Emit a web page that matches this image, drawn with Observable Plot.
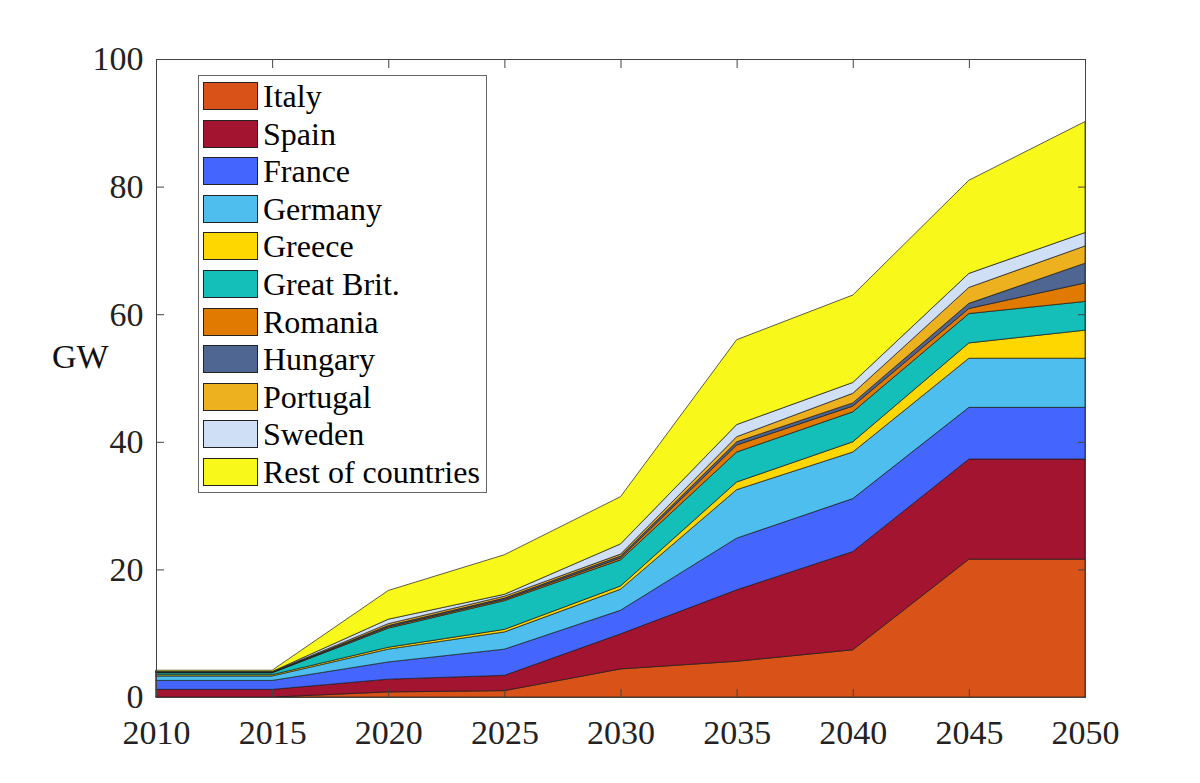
<!DOCTYPE html>
<html>
<head>
<meta charset="utf-8">
<script src="https://cdn.jsdelivr.net/npm/d3@7"></script>
<script src="https://cdn.jsdelivr.net/npm/@observablehq/plot@0.6"></script>
<style>
  html, body { margin: 0; padding: 0; background: #fff; }
  #wrap { position: relative; width: 1200px; height: 783px; font-family: "Liberation Serif", "DejaVu Serif", serif; }
  #wrap svg { position: absolute; left: 0; top: 0; }
  #legend { position: absolute; left: 198px; top: 75px; width: 289px; height: 418px; border: 1px solid #666; background: #fff; box-sizing: border-box; }
  .row { position: absolute; left: 4px; height: 28px; display: flex; align-items: center; }
  .sw { width: 53px; height: 26px; border: 1px solid #222; margin-right: 5px; }
  .lab { font-size: 32px; color: #000; line-height: 28px; white-space: nowrap; }
  #gw { position: absolute; left: 52px; top: 338px; font-size: 34px; color: #111; }
</style>
</head>
<body>
<div id="wrap"></div>
<script>
const years = [2010, 2015, 2020, 2025, 2030, 2035, 2040, 2045, 2050];
const countries = ["Italy", "Spain", "France", "Germany", "Greece", "Great Brit.", "Romania", "Hungary", "Portugal", "Sweden", "Rest of countries"];
const colors = ["#D95319", "#A2142F", "#4466FF", "#4DBEEE", "#FFD700", "#14BFB9", "#E17A00", "#4F6592", "#EDB120", "#CFDFF5", "#F8F81A"];

const italy    = [0,    0,    0.8, 1.0, 4.4, 5.6,  7.4,  21.6, 21.6];
const spain    = [1.2,  1.2,  2.0, 2.4, 5.5, 11.2, 15.4, 15.7, 15.7];
const france   = [1.4,  1.4,  2.7, 4.1, 3.7, 8.1,  8.3,  8.1,  8.1];
const germany  = [0.7,  0.7,  2.0, 2.7, 3.3, 7.6,  7.3,  7.7,  7.7];
const greece   = [0.2,  0.2,  0.3, 0.4, 0.5, 1.2,  1.6,  2.4,  4.4];
const greatBrit= [0.3,  0.3,  3.0, 4.5, 4.1, 4.7,  4.7,  4.6,  4.5];
const romania  = [0.05, 0.05, 0.2, 0.2, 0.3, 1.1,  0.9,  0.8,  2.9];
const hungary  = [0.05, 0.05, 0.2, 0.2, 0.3, 0.5,  0.5,  0.8,  3.1];
const portugal = [0.05, 0.05, 0.3, 0.3, 0.3, 0.8,  1.5,  2.5,  2.7];
const sweden   = [0.05, 0.05, 0.7, 0.3, 1.6, 1.9,  1.7,  2.2,  2.1];
const rest     = [0.2,  0.2,  4.5, 6.2, 7.4, 13.3, 13.7, 14.6, 17.4];

const yTicks = [0, 20, 40, 60, 80, 100];

const series = [italy, spain, france, germany, greece, greatBrit, romania, hungary, portugal, sweden, rest];
const data = [];
countries.forEach((c, i) => years.forEach((y, j) => data.push({country: c, year: y, value: series[i][j]})));

const noLabel = () => "";
const chart = Plot.plot({
  width: 1200,
  height: 783,
  marginLeft: 156,
  marginRight: 115,
  marginTop: 59,
  marginBottom: 86,
  style: {fontFamily: "'Liberation Serif', 'DejaVu Serif', serif", fontSize: "34px", color: "#222", background: "transparent"},
  x: {domain: [2010, 2050]},
  y: {domain: [0, 100]},
  color: {domain: countries, range: colors},
  marks: [
    Plot.areaY(data, {x: "year", y: "value", z: "country", fill: "country", stroke: "#1a1a1a", strokeWidth: 0.7, order: countries}),
    Plot.frame({stroke: "#444", strokeWidth: 1}),
    Plot.axisX({anchor: "bottom", ticks: years, tickFormat: "d", tickSize: -8, tickPadding: 30, label: null, stroke: "#444", fill: "#222"}),
    Plot.axisX({anchor: "top", ticks: years, tickFormat: noLabel, tickSize: -8, label: null, stroke: "#444"}),
    Plot.axisY({anchor: "left", ticks: yTicks, tickSize: -8, tickPadding: 21, label: null, stroke: "#444", fill: "#222"}),
    Plot.axisY({anchor: "right", ticks: yTicks, tickFormat: noLabel, tickSize: -8, label: null, stroke: "#444"})
  ]
});

const wrap = document.getElementById("wrap");
wrap.appendChild(chart);

const gw = document.createElement("div");
gw.id = "gw";
gw.textContent = "GW";
wrap.appendChild(gw);

const legend = document.createElement("div");
legend.id = "legend";
countries.forEach((c, i) => {
  const row = document.createElement("div");
  row.className = "row";
  row.style.top = (6 + i * 37.6) + "px";
  const sw = document.createElement("div");
  sw.className = "sw";
  sw.style.background = colors[i];
  const lab = document.createElement("span");
  lab.className = "lab";
  lab.textContent = c;
  row.appendChild(sw);
  row.appendChild(lab);
  legend.appendChild(row);
});
wrap.appendChild(legend);
</script>
</body>
</html>
